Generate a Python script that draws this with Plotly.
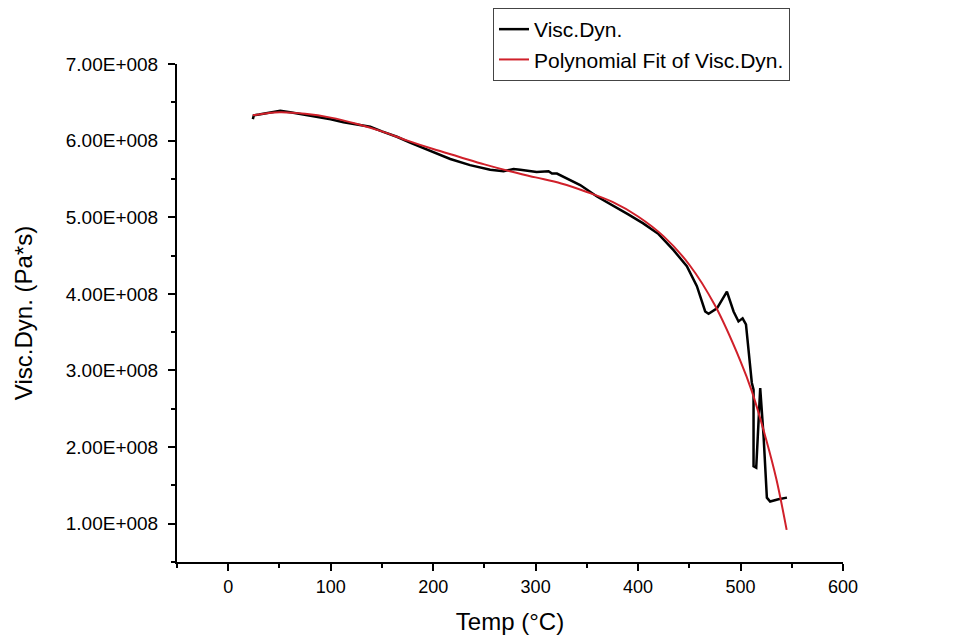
import plotly.graph_objects as go

# Measured curve: Temp (°C) vs dynamic viscosity (Pa*s)
temp_meas = [24, 25, 30, 37.7, 45, 50.8, 60.5, 75, 86.5, 100, 112.5, 125, 138.6, 150, 164.6,
             178, 190.6, 205, 216.7, 236, 255.7, 268.7, 278.5, 285, 298, 301, 312.6, 316,
             320.8, 327, 333.8, 343.5, 359.9, 375, 390, 405, 420, 434.6, 447.6, 457.4,
             465.5, 468.8, 477, 486.7, 493.2, 498, 502, 505.3, 511, 512.7, 512.7, 515.3,
             519.2, 522.5, 525.7, 528.9, 537, 545.3]
visc_meas = [6.28e8, 6.33e8, 6.34e8, 6.36e8, 6.38e8, 6.39e8, 6.37e8, 6.34e8, 6.31e8, 6.28e8,
             6.24e8, 6.21e8, 6.18e8, 6.12e8, 6.05e8, 5.97e8, 5.90e8, 5.82e8, 5.76e8, 5.68e8,
             5.62e8, 5.60e8, 5.63e8, 5.62e8, 5.60e8, 5.59e8, 5.60e8, 5.57e8, 5.57e8, 5.53e8,
             5.48e8, 5.42e8, 5.27e8, 5.16e8, 5.04e8, 4.92e8, 4.78e8, 4.57e8, 4.36e8, 4.10e8,
             3.77e8, 3.74e8, 3.81e8, 4.03e8, 3.77e8, 3.64e8, 3.68e8, 3.60e8, 2.84e8, 2.75e8,
             1.75e8, 1.73e8, 2.77e8, 2.14e8, 1.34e8, 1.29e8, 1.32e8, 1.34e8]

# Polynomial fit curve
temp_fit = [24, 50, 75, 100, 125, 150, 175, 200, 225, 250, 275, 300, 325, 350, 375, 400,
            425, 450, 475, 500, 511, 525, 535, 545]
visc_fit = [6.33e8, 6.37e8, 6.35e8, 6.30e8, 6.22e8, 6.12e8, 6.00e8, 5.89e8, 5.79e8, 5.69e8,
            5.60e8, 5.52e8, 5.44e8, 5.33e8, 5.20e8, 5.01e8, 4.75e8, 4.38e8, 3.85e8, 3.12e8,
            2.73e8, 2.10e8, 1.58e8, 0.92e8]

x_ticks = [0, 100, 200, 300, 400, 500, 600]
x_minor = [-50, 50, 150, 250, 350, 450, 550]
y_ticks = [1e8, 2e8, 3e8, 4e8, 5e8, 6e8, 7e8]
y_tick_labels = ["1.00E+008", "2.00E+008", "3.00E+008", "4.00E+008",
                 "5.00E+008", "6.00E+008", "7.00E+008"]
y_minor = [0.5e8, 1.5e8, 2.5e8, 3.5e8, 4.5e8, 5.5e8, 6.5e8]

FONT = "Liberation Sans, Arial, sans-serif"

fig = go.Figure()
fig.add_trace(go.Scatter(x=temp_meas, y=visc_meas, mode="lines", name="Visc.Dyn.",
                         line=dict(color="black", width=2.5)))
fig.add_trace(go.Scatter(x=temp_fit, y=visc_fit, mode="lines", name="Polynomial Fit of Visc.Dyn.",
                         line=dict(color="#d0202a", width=2, shape="spline", smoothing=1.0)))

# page body has an 8px margin, so the figure is sized 953x632
fig.update_layout(
    width=953, height=632,
    margin=dict(l=169, r=118, t=56, b=78, autoexpand=False),
    paper_bgcolor="white", plot_bgcolor="white",
    font=dict(family=FONT, color="black", size=18),
    showlegend=True,
    legend=dict(x=(493 - 177) / 666, y=(562 - 8) / 498, xanchor="left", yanchor="top",
                bgcolor="white", bordercolor="#444", borderwidth=1,
                font=dict(size=21, family=FONT), tracegroupgap=0),
)
fig.update_xaxes(
    range=[-50, 600], tickmode="array", tickvals=x_ticks,
    showline=True, linecolor="black", linewidth=2, mirror=False,
    ticks="outside", ticklen=7, tickwidth=2, tickcolor="black",
    showgrid=False, zeroline=False,
    tickfont=dict(size=18),
    minor=dict(tickmode="array", tickvals=x_minor, ticks="outside", ticklen=4,
               tickwidth=2, tickcolor="black", showgrid=False),
    title=dict(text="Temp (°C)", font=dict(size=24), standoff=18),
)
fig.update_yaxes(
    range=[0.5e8, 7e8], tickmode="array", tickvals=y_ticks, ticktext=y_tick_labels,
    showline=True, linecolor="black", linewidth=2, mirror=False,
    ticks="outside", ticklen=7, tickwidth=2, tickcolor="black",
    showgrid=False, zeroline=False,
    tickfont=dict(size=19), ticklabelstandoff=6,
    minor=dict(tickmode="array", tickvals=y_minor, ticks="outside", ticklen=4,
               tickwidth=2, tickcolor="black", showgrid=False),
    title=dict(text="Visc.Dyn. (Pa*s)", font=dict(size=24), standoff=26),
)

fig.write_html("out.html")
